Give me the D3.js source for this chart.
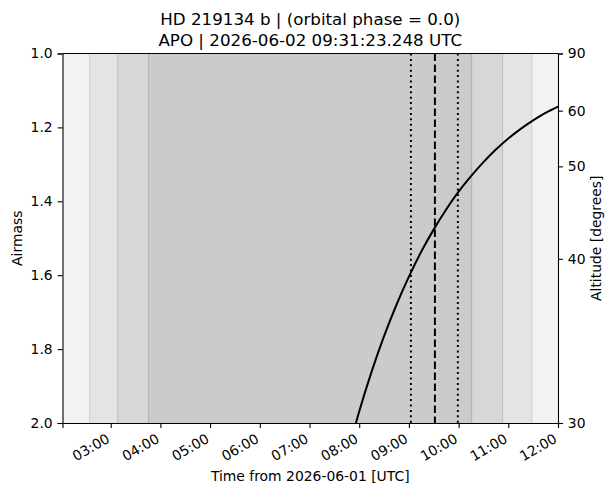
<!DOCTYPE html>
<html lang="en">
<head>
<meta charset="UTF-8">
<title>HD 219134 b airmass</title>
<script src="https://d3js.org/d3.v7.min.js"></script>
<style>
  body { margin: 0; background: #fff; }
  text { font-family: "DejaVu Sans", sans-serif; fill: #000; }
</style>
</head>
<body>
<svg width="615" height="495"></svg>
<script>
    // airmass curve, UTC hours on 2026-06-01/02
    let hours = [7.75, 8.0, 8.25, 8.5, 8.75, 9.0, 9.25, 9.5, 9.75, 10.0, 10.25, 10.5, 10.75, 11.0, 11.25, 11.5, 11.75, 12.0]
    let airmass = [2.092, 1.969, 1.861, 1.765, 1.680, 1.604, 1.536, 1.476, 1.422, 1.374, 1.332, 1.294, 1.260, 1.230, 1.204, 1.181, 1.161, 1.144]

    // twilight shading: band edges (hours) and grey levels
    let bandStart = [2.03, 2.578, 3.141, 3.763, 10.26, 10.883, 11.471]
    let bandEnd   = [2.578, 3.141, 3.763, 10.26, 10.883, 11.471, 12.0]
    let bandFill  = ["#f2f2f2", "#e4e4e4", "#d7d7d7", "#cbcbcb", "#d7d7d7", "#e4e4e4", "#f2f2f2"]

    // transit: ingress, mid, egress (hours)
    let transitMid = 9 + 31/60 + 23.248/3600
    let transitLines = [9.04, transitMid, 9.985]
    let transitDash = ["2,3.4", "7.4,3.6", "2,3.4"]

    let xTicks = [3, 4, 5, 6, 7, 8, 9, 10, 11, 12]
    let yTicks = [1.0, 1.2, 1.4, 1.6, 1.8, 2.0]
    let altTicks = [90, 60, 50, 40, 30]

    let svg = d3.select('svg')
    let mLeft = 62.5, mRight = 558, mTop = 53.5, mBottom = 423
    let x = d3.scaleLinear().domain([2.03, 12.0]).range([mLeft, mRight])
    let y = d3.scaleLinear().domain([1.0, 2.0]).range([mTop, mBottom])
    let hhmm = h => String(Math.floor(h)).padStart(2, '0') + ':00'

    svg.append('defs').append('clipPath').attr('id', 'plot')
        .append('rect').attr('x', mLeft).attr('y', mTop)
        .attr('width', mRight - mLeft).attr('height', mBottom - mTop)

    let plot = svg.append('g').attr('clip-path', 'url(#plot)')

    plot.selectAll('.band')
        .data(bandStart)
        .enter()
        .append('rect')
        .attr('x', d => x(d))
        .attr('y', mTop)
        .attr('width', (d, i) => x(bandEnd[i]) - x(d))
        .attr('height', mBottom - mTop)
        .attr('fill', (d, i) => bandFill[i])

    // faint edges where the shaded spans meet
    plot.selectAll('.edge')
        .data(bandStart.slice(1))
        .enter()
        .append('line')
        .attr('x1', d => x(d)).attr('x2', d => x(d))
        .attr('y1', mTop).attr('y2', mBottom)
        .attr('stroke', (d, i) => ["#d0d0d0", "#c2c2c2", "#b4b4b4", "#b4b4b4", "#c2c2c2", "#d0d0d0"][i])
        .attr('stroke-width', 1.2)

    plot.selectAll('.transit')
        .data(transitLines)
        .enter()
        .append('line')
        .attr('x1', d => x(d)).attr('x2', d => x(d))
        .attr('y1', mTop).attr('y2', mBottom)
        .attr('stroke', '#000')
        .attr('stroke-width', 2)
        .attr('stroke-dasharray', (d, i) => transitDash[i])

    let line = d3.line()
        .x((d, i) => x(hours[i]))
        .y(d => y(d))
        .curve(d3.curveMonotoneX)

    plot.append('path')
        .attr('d', line(airmass))
        .attr('fill', 'none')
        .attr('stroke', '#000')
        .attr('stroke-width', 2)

    // axes
    let xAxis = svg.append('g')
        .attr('transform', `translate(0,${mBottom})`)
        .call(d3.axisBottom(x).tickValues(xTicks).tickFormat(hhmm).tickSizeOuter(0).tickSize(4.9).tickPadding(4.9))
    xAxis.selectAll('text')
        .style('font-size', '13.9px')
        .attr('text-anchor', 'end')
        .attr('dy', '0.72em')
        .attr('transform', function () {
            return `translate(-5.5,${+d3.select(this).attr('y')}) rotate(-30)`
        })
        .attr('y', 0)

    svg.append('g')
        .attr('transform', `translate(${mLeft},0)`)
        .call(d3.axisLeft(y).tickValues(yTicks).tickFormat(d3.format('.1f')).tickSizeOuter(0).tickSize(4.9).tickPadding(4.9))
        .selectAll('text').style('font-size', '13.9px')

    svg.append('g')
        .attr('transform', `translate(${mRight},0)`)
        .call(d3.axisRight(y).tickValues(altTicks.map(a => 1 / Math.sin(a * Math.PI / 180)))
            .tickFormat((d, i) => altTicks[i]).tickSizeOuter(0).tickSize(4.9).tickPadding(4.9))
        .selectAll('text').style('font-size', '13.9px')

    svg.selectAll('.domain').attr('stroke', '#000').attr('stroke-width', 1.1)
    svg.selectAll('.tick line').attr('stroke', '#000').attr('stroke-width', 1.1)

    svg.append('line').attr('x1', mLeft).attr('x2', mRight).attr('y1', mTop).attr('y2', mTop)
        .attr('stroke', '#000').attr('stroke-width', 1.1)

    // labels
    svg.append('text').attr('x', (mLeft + mRight) / 2).attr('y', 25)
        .attr('text-anchor', 'middle').style('font-size', '16.7px')
        .text('HD 219134 b | (orbital phase = 0.0)')
    svg.append('text').attr('x', (mLeft + mRight) / 2).attr('y', 46)
        .attr('text-anchor', 'middle').style('font-size', '16.7px')
        .text('APO | 2026-06-02 09:31:23.248 UTC')

    svg.append('text').attr('x', (mLeft + mRight) / 2).attr('y', 481)
        .attr('text-anchor', 'middle').style('font-size', '13.9px')
        .text('Time from 2026-06-01 [UTC]')

    svg.append('text')
        .attr('transform', `translate(22,${(mTop + mBottom) / 2}) rotate(-90)`)
        .attr('text-anchor', 'middle').style('font-size', '13.9px')
        .text('Airmass')

    svg.append('text')
        .attr('transform', `translate(601,${(mTop + mBottom) / 2}) rotate(-90)`)
        .attr('text-anchor', 'middle').style('font-size', '13.9px')
        .text('Altitude [degrees]')
</script>
</body>
</html>
